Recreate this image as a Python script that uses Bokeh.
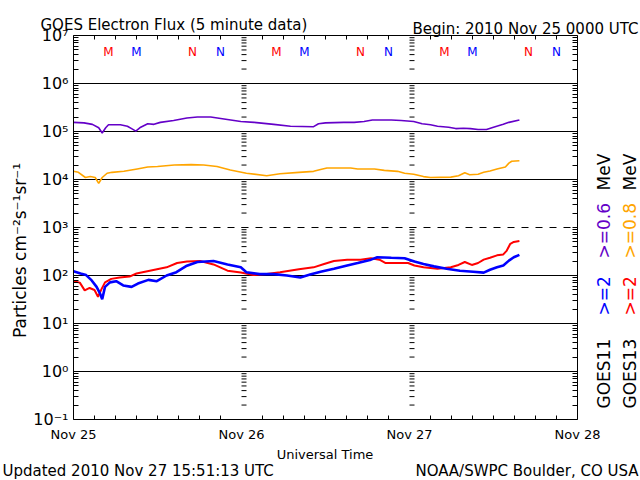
import math
from bokeh.plotting import figure
from bokeh.models import Range1d, FixedTicker, LinearAxis, LogAxis, Label
from bokeh.core.properties import value
from bokeh.embed import file_html
from bokeh.resources import INLINE

FONT = "DejaVu Sans"

# ---------------- data (hours since 2010 Nov 25 00:00 UTC) ----------------
day_hours = [0, 24, 48, 72]
day_labels = ["Nov 25", "Nov 26", "Nov 27", "Nov 28"]
hour_ticks = [3, 6, 9, 12, 15, 18, 21, 27, 30, 33, 36, 39, 42, 45,
              51, 54, 57, 60, 63, 66, 69]
decades = [1e-1, 1e0, 1e1, 1e2, 1e3, 1e4, 1e5, 1e6, 1e7]
decade_labels = ["10⁻¹", "10⁰", "10¹", "10²", "10³", "10⁴", "10⁵", "10⁶", "10⁷"]
solid_levels = [1e0, 1e1, 1e2, 1e4, 1e5, 1e6]
dashed_levels = [1e3]

# GOES11 >=0.6 MeV (purple)
g11_lo_t = [0.0, 1.5, 2.7, 3.6, 4.1, 4.6, 5.0, 6.7, 7.7, 8.3, 8.9, 9.6, 10.6, 11.5,
            12.4, 14.3, 16.2, 17.7, 19.6, 21.5, 23.9, 25.8, 28.6, 31.0, 34.3, 35.0,
            36.0, 38.6, 40.1, 41.5, 42.7, 45.4, 46.8, 48.6, 49.8, 51.0, 52.0, 53.6,
            54.6, 55.7, 56.7, 57.8, 59.0, 60.0, 61.4, 62.2, 63.7]
g11_lo_v = [1.55e5, 1.51e5, 1.41e5, 1.20e5, 9.3e4, 1.20e5, 1.38e5, 1.38e5, 1.29e5,
            1.15e5, 1.02e5, 1.23e5, 1.45e5, 1.41e5, 1.55e5, 1.70e5, 1.91e5, 2.00e5,
            2.00e5, 1.82e5, 1.62e5, 1.55e5, 1.41e5, 1.29e5, 1.26e5, 1.45e5, 1.51e5,
            1.55e5, 1.55e5, 1.62e5, 1.74e5, 1.74e5, 1.70e5, 1.62e5, 1.45e5, 1.38e5,
            1.29e5, 1.23e5, 1.15e5, 1.17e5, 1.15e5, 1.10e5, 1.10e5, 1.23e5, 1.41e5,
            1.55e5, 1.74e5]

# GOES13 >=0.8 MeV (orange)
g13_lo_t = [0.0, 0.7, 1.7, 2.4, 3.1, 3.6, 4.1, 4.8, 5.5, 7.2, 9.1, 10.6, 12.0, 14.4,
            16.8, 18.6, 20.5, 22.4, 24.7, 27.6, 29.5, 32.2, 34.3, 35.3, 36.2, 39.6,
            40.6, 43.0, 44.4, 46.3, 47.3, 48.6, 50.0, 51.0, 53.9, 55.0, 55.9, 56.6,
            57.8, 58.6, 59.5, 60.5, 61.7, 62.2, 62.6, 63.7]
g13_lo_v = [1.48e4, 1.41e4, 1.10e4, 1.15e4, 1.10e4, 8.3e3, 1.10e4, 1.35e4, 1.41e4,
            1.48e4, 1.66e4, 1.82e4, 1.86e4, 2.00e4, 2.04e4, 2.00e4, 1.86e4, 1.58e4,
            1.35e4, 1.20e4, 1.32e4, 1.41e4, 1.48e4, 1.62e4, 1.74e4, 1.74e4, 1.66e4,
            1.66e4, 1.55e4, 1.48e4, 1.35e4, 1.29e4, 1.15e4, 1.10e4, 1.12e4, 1.20e4,
            1.38e4, 1.26e4, 1.29e4, 1.41e4, 1.51e4, 1.66e4, 1.82e4, 2.19e4, 2.40e4,
            2.45e4]

# GOES13 >=2 MeV (red)
g13_hi_t = [0.0, 0.9, 1.6, 2.3, 3.0, 3.5, 4.0, 4.5, 5.4, 6.6, 8.0, 9.0, 10.9, 13.3,
            14.8, 16.2, 18.1, 20.0, 22.0, 23.9, 25.7, 27.6, 29.5, 32.2, 34.3, 35.8,
            37.2, 39.1, 41.0, 42.5, 43.7, 44.6, 46.3, 47.8, 48.7, 50.0, 52.0, 53.9,
            55.0, 55.9, 56.9, 57.8, 58.6, 59.5, 60.5, 61.4, 61.9, 62.4, 62.9, 63.7]
g13_hi_v = [76, 71, 49, 55, 50, 36, 52, 72, 85, 91, 95, 110, 126, 148, 182, 195, 200,
            170, 126, 115, 102, 107, 117, 135, 148, 174, 200, 214, 214, 229, 214, 182,
            182, 182, 162, 148, 138, 148, 166, 191, 166, 182, 214, 234, 263, 275, 331,
            457, 501, 525]

# GOES11 >=2 MeV (blue)
g11_hi_t = [0.0, 1.0, 1.8, 2.6, 3.3, 3.8, 4.1, 4.5, 5.2, 6.1, 7.1, 8.3, 9.2, 10.7,
            11.9, 13.3, 14.7, 16.2, 17.7, 20.0, 22.0, 23.9, 24.7, 26.6, 28.6, 30.5,
            32.4, 33.8, 35.3, 37.2, 39.1, 40.6, 42.5, 43.4, 45.4, 47.3, 48.7, 50.0,
            51.5, 53.3, 55.2, 57.1, 58.6, 59.5, 60.5, 61.4, 62.2, 62.9, 63.7]
g11_hi_v = [123, 110, 102, 79, 58, 42, 32, 58, 72, 76, 62, 58, 68, 81, 76, 100, 117,
            160, 191, 200, 170, 148, 117, 107, 107, 100, 91, 105, 120, 138, 162, 182,
            214, 240, 234, 229, 195, 174, 155, 138, 126, 120, 115, 132, 148, 162, 204,
            240, 269]

# local midnight (M) / noon (N) markers
g13_midnight = [5, 29, 53]
g11_midnight = [9, 33, 57]
g13_noon = [17, 41, 65]
g11_noon = [21, 45, 69]
mn_level = 4.6e6

RED = "#ff0000"
BLUE = "#0000ff"
PURPLE = "#6400c8"
ORANGE = "#ffa500"

# ---------------- layout (pixels) ----------------
W, H = 640, 480
BOX_L, BOX_R, BOX_T, BOX_B = 73, 577, 35, 419
px_per_h = (BOX_R - BOX_L) / (day_hours[-1] - day_hours[0])
px_per_dec = (BOX_B - BOX_T) / (math.log10(decades[-1]) - math.log10(decades[0]))
x_lo = day_hours[0] - BOX_L / px_per_h
x_hi = day_hours[-1] + (W - BOX_R) / px_per_h
y_lo = 10 ** (math.log10(decades[0]) - (H - BOX_B) / px_per_dec)
y_hi = 10 ** (math.log10(decades[-1]) + BOX_T / px_per_dec)

# frame covers the whole canvas; axes are pinned at the box edges
p = figure(width=W, height=H, output_backend="svg", toolbar_location=None,
           x_range=Range1d(x_lo, x_hi), y_range=Range1d(y_lo, y_hi),
           y_axis_type="log", min_border=0)
p.background_fill_color = "white"
p.border_fill_color = "white"
p.outline_line_color = None
p.xgrid.visible = False
p.ygrid.visible = False

minor_y = [k * d for d in decades[:-1] for k in range(2, 10)]
yticker = FixedTicker(ticks=decades, minor_ticks=minor_y)
xticker = FixedTicker(ticks=day_hours, minor_ticks=hour_ticks)
xb = (day_hours[0], day_hours[-1])
yb = (decades[0], decades[-1])

# bottom axis
xa = p.xaxis[0]
xa.ticker = xticker
xa.fixed_location = decades[0]
xa.bounds = xb
xa.major_label_overrides = {h: s for h, s in zip(day_hours, day_labels)}
xa.major_label_text_font = FONT
xa.major_label_text_font_size = "13px"
xa.major_label_text_color = "black"
xa.major_label_standoff = 7
xa.major_tick_in = 0
xa.major_tick_out = 0
xa.minor_tick_in = 4
xa.minor_tick_out = 0
xa.minor_tick_line_color = "black"
xa.axis_line_color = "black"

# left axis
ya = p.yaxis[0]
ya.ticker = yticker
ya.fixed_location = day_hours[0]
ya.bounds = yb
ya.major_label_overrides = {d: s for d, s in zip(decades, decade_labels)}
ya.major_label_text_font = FONT
ya.major_label_text_font_size = "16px"
ya.major_label_text_color = "black"
ya.major_label_standoff = 5
ya.major_tick_in = 5
ya.major_tick_out = 0
ya.minor_tick_in = 5
ya.minor_tick_out = 0
ya.minor_tick_line_color = "black"
ya.major_tick_line_color = "black"
ya.axis_line_color = "black"

# top axis (ticks only)
top = LinearAxis(ticker=FixedTicker(ticks=[], minor_ticks=hour_ticks),
                 fixed_location=decades[-1], bounds=xb,
                 minor_tick_in=4, minor_tick_out=0, major_tick_in=0, major_tick_out=0,
                 minor_tick_line_color="black", axis_line_color="black")
p.add_layout(top, "above")

# right axis (ticks only)
right = LogAxis(ticker=FixedTicker(ticks=[], minor_ticks=decades + minor_y),
                fixed_location=day_hours[-1], bounds=yb,
                minor_tick_in=5, minor_tick_out=0, major_tick_in=0, major_tick_out=0,
                minor_tick_line_color="black", axis_line_color="black")
p.add_layout(right, "right")

# decade lines
n = len(solid_levels)
p.segment(x0=[xb[0]] * n, x1=[xb[1]] * n, y0=solid_levels, y1=solid_levels,
          line_color="black", line_width=1)
m = len(dashed_levels)
p.segment(x0=[xb[0]] * m, x1=[xb[1]] * m, y0=dashed_levels, y1=dashed_levels,
          line_color="black", line_width=1, line_dash="7 7")

# log tick columns at each inner day boundary
tick_len_h = 5 / px_per_h
col_x0, col_x1, col_y = [], [], []
for dh in day_hours[1:-1]:
    for v in decades + minor_y:
        col_x0.append(dh)
        col_x1.append(dh + tick_len_h)
        col_y.append(v)
p.segment(x0=col_x0, y0=col_y, x1=col_x1, y1=col_y, line_color="black", line_width=1)

# data
p.line(g11_lo_t, g11_lo_v, line_color=PURPLE, line_width=1.6)
p.line(g13_lo_t, g13_lo_v, line_color=ORANGE, line_width=1.6)
p.line(g13_hi_t, g13_hi_v, line_color=RED, line_width=2)
p.line(g11_hi_t, g11_hi_v, line_color=BLUE, line_width=2.6)

# M / N markers
mn_x = g13_midnight + g11_midnight + g13_noon + g11_noon
mn_txt = ["M"] * 6 + ["N"] * 6
mn_col = [RED] * 3 + [BLUE] * 3 + [RED] * 3 + [BLUE] * 3
p.text(x=mn_x, y=[mn_level] * len(mn_x), text=mn_txt, text_color=mn_col,
       text_font=value(FONT), text_font_size="12px", text_align="center",
       text_baseline="middle")

# ---------------- texts (screen units; frame == canvas, origin bottom-left) --------
def lab(text, x, y, size, color="black", align="left", angle=0.0):
    p.add_layout(Label(x=x, y=y, x_units="screen", y_units="screen", text=text,
                       text_font=FONT, text_font_size=size, text_color=color,
                       text_align=align, text_baseline="alphabetic", angle=angle))

lab("GOES Electron Flux (5 minute data)", 40, 456, "15px")
lab("Begin: 2010 Nov 25 0000 UTC", 638, 452, "15px", align="right")
lab("Updated 2010 Nov 27 15:51:13 UTC", 2, 10, "15px")
lab("NOAA/SWPC Boulder, CO USA", 638, 10, "15px", align="right")
lab("Universal Time", 324.5, 26, "13px", align="center")
lab("Particles cm⁻²s⁻¹sr⁻¹", 19, 230, "17px", align="center", angle=math.pi / 2)

col1, col2 = 603, 629
lab("GOES11", col1, 72, "17px", angle=math.pi / 2)
lab(">=2", col1, 165, "17px", color=BLUE, angle=math.pi / 2)
lab(">=0.6", col1, 222, "17px", color=PURPLE, angle=math.pi / 2)
lab("MeV", col1, 290, "17px", angle=math.pi / 2)
lab("GOES13", col2, 72, "17px", angle=math.pi / 2)
lab(">=2", col2, 165, "17px", color=RED, angle=math.pi / 2)
lab(">=0.8", col2, 222, "17px", color=ORANGE, angle=math.pi / 2)
lab("MeV", col2, 290, "17px", angle=math.pi / 2)

open("out.html", "w").write(file_html(p, INLINE))
